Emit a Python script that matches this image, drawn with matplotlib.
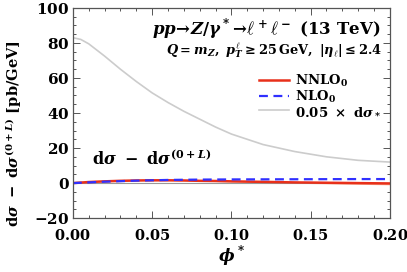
import numpy as np
import matplotlib.pyplot as plt
from matplotlib.ticker import MultipleLocator, FuncFormatter

plt.rcParams['mathtext.fontset'] = 'custom'
plt.rcParams['mathtext.rm'] = 'DejaVu Serif:bold'
plt.rcParams['mathtext.it'] = 'DejaVu Serif:italic:bold'
plt.rcParams['mathtext.bf'] = 'DejaVu Serif:bold'
plt.rcParams['mathtext.sf'] = 'DejaVu Serif:bold'
plt.rcParams['font.family'] = 'serif'
plt.rcParams['font.serif'] = ['DejaVu Serif']
plt.rcParams['font.weight'] = 'bold'

# 讀圖估計的數值
phi = [0.0, 0.005, 0.01, 0.015, 0.02, 0.03, 0.04, 0.05, 0.06, 0.07, 0.08,
       0.09, 0.10, 0.12, 0.14, 0.16, 0.18, 0.20]
dsig_star = [83, 82, 79.5, 76, 72.5, 65, 58, 51.5, 46, 41, 36.5,
             32, 28, 22, 18, 15, 13, 12]  # 0.05 x dsigma_*
nnlo0 = [0.0, 0.3, 0.6, 0.8, 1.0, 1.3, 1.5, 1.6, 1.6, 1.5, 1.3,
         1.2, 1.0, 0.7, 0.4, 0.2, 0.0, -0.2]
nnlo0_lo = [0.0, 0.2, 0.4, 0.6, 0.8, 1.1, 1.3, 1.4, 1.4, 1.3, 1.1,
            0.9, 0.7, 0.3, -0.1, -0.4, -0.7, -1.0]
nnlo0_hi = [0.0, 0.4, 0.8, 1.0, 1.2, 1.5, 1.7, 1.8, 1.8, 1.7, 1.5,
            1.4, 1.2, 1.0, 0.8, 0.6, 0.5, 0.4]
nlo0 = [0.0, 0.2, 0.4, 0.6, 0.8, 1.1, 1.4, 1.6, 1.8, 1.9, 2.0,
        2.05, 2.1, 2.15, 2.2, 2.25, 2.3, 2.3]

fig = plt.figure(figsize=(4.07, 2.72), dpi=100)
ax = fig.add_axes([0.179, 0.198, 0.779, 0.773])

ax.axhline(0, color='#999999', lw=0.8)
ax.fill_between(phi, nnlo0_lo, nnlo0_hi, color='#ffb89a', lw=0)
ax.plot(phi, nnlo0, color='#e8301a', lw=1.8, label=r'$\mathrm{NNLO_0}$')
ax.plot(phi, nlo0, color='#3030ff', lw=1.6, ls=(0, (4, 2.5)), label=r'$\mathrm{NLO_0}$')
ax.plot(phi, dsig_star, color='#cccccc', lw=1.2,
        label=r'$\mathrm{0.05\ \times\ d}\sigma_*$')

ax.set_xlim(0, 0.2)
ax.set_ylim(-20, 100)
ax.xaxis.set_major_locator(MultipleLocator(0.05))
ax.xaxis.set_minor_locator(MultipleLocator(0.01))
ax.yaxis.set_major_locator(MultipleLocator(20))
ax.yaxis.set_minor_locator(MultipleLocator(5))
ax.xaxis.set_major_formatter(FuncFormatter(lambda v, p: r'$\mathrm{%.2f}$' % v))
ax.yaxis.set_major_formatter(FuncFormatter(lambda v, p: r'$\mathrm{%d}$' % v if v >= 0 else r'$-\mathrm{%d}$' % -v))
ax.tick_params(which='both', direction='in', top=True, right=True, labelsize=11, width=0.7, color='#555555')
ax.tick_params(which='major', length=5)
ax.tick_params(which='minor', length=2.5)
ax.tick_params(axis='x', pad=7, labelsize=10.5)
ax.tick_params(axis='y', pad=2.5)
for s in ax.spines.values():
    s.set_color('#555555')
    s.set_linewidth(0.9)

ax.set_xlabel(r'$\phi^*$', fontsize=12, labelpad=0)
ax.set_ylabel(r'$\mathrm{d}\sigma\ -\ \mathrm{d}\sigma^{(\mathrm{0+}L)}\ \mathrm{[pb/GeV]}$', fontsize=10.5)
ax.yaxis.set_label_coords(-0.155, 0.4)

ax.text(0.97, 0.90, r'$pp\!\rightarrow\! Z/\gamma^*\!\rightarrow\! \ell^+\ell^-\ \mathrm{(13\ TeV)}$',
        transform=ax.transAxes, ha='right', va='center', fontsize=12)
ax.text(0.975, 0.80, r'$Q = m_Z,\ p_T^\ell \geq \mathrm{25\,GeV},\ |\eta_\ell| \leq \mathrm{2.4}$',
        transform=ax.transAxes, ha='right', va='center', fontsize=9.3)
ax.text(0.06, 0.28, r'$\mathrm{d}\sigma\ -\ \mathrm{d}\sigma^{(\mathrm{0+}L)}$',
        transform=ax.transAxes, ha='left', va='center', fontsize=11.5)

ax.legend(loc='upper right', bbox_to_anchor=(1.0, 0.735), frameon=False, fontsize=9.5,
          handlelength=2.3, handletextpad=0.4, labelspacing=0.0, borderaxespad=0.3)

fig.savefig('out.png', dpi=100)
